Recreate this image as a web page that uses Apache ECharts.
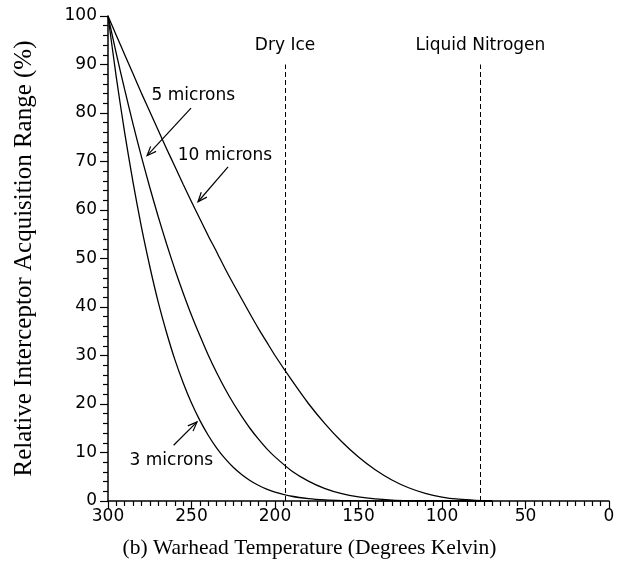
<!DOCTYPE html>
<html>
<head>
<meta charset="utf-8">
<script src="https://cdn.jsdelivr.net/npm/echarts@6/dist/echarts.min.js"></script>
<style>html,body{margin:0;padding:0;background:#fff;}#c{width:622px;height:566px;}</style>
</head>
<body>
<div id="c"></div>
<script>
// Warhead temperature (K)
var temps = [300,295,290,285,280,275,270,265,260,255,250,245,240,235,230,225,220,215,210,205,200,190,180,170,160,150,140,130,120,110,100,90,80,70];
// Relative acquisition range (%)
var micron3  = [100,87.3,75.9,65.7,56.5,48.4,41.1,34.8,29.2,24.4,20.2,16.62,13.56,10.96,8.78,6.96,5.47,4.24,3.25,2.46,1.84,0.98,0.485,0.22,0.092,0.034,0.011,0,0,0,0,0,0,0];
var micron5  = [100,92.2,84.8,77.7,71.0,64.7,58.7,53.1,47.8,42.9,38.3,34.1,30.1,26.5,23.2,20.2,17.5,15.0,12.8,10.8,9.1,6.2,4.1,2.55,1.5,0.83,0.42,0.19,0.075,0.025,0.007,0,0,0];
var micron10 = [100,96.0,92.0,88.1,84.1,80.3,76.5,72.7,69.0,65.3,61.7,58.2,54.7,51.4,48.0,44.8,41.7,38.6,35.6,32.8,30.0,24.9,20.1,15.9,12.2,9.05,6.43,4.33,2.73,1.58,0.82,0.37,0.14,0.04];

// Reference temperatures
var refNames = ['Dry Ice', 'Liquid Nitrogen'];
var refTemps = [194, 77];
var refTop = 90;
var refLabelY = 94;

// Curve annotations (text position and arrow from -> to, in data units)
var annText = ['5 microns', '10 microns', '3 microns'];
var annTextT = [248.9, 230.0, 262.1];
var annTextV = [83.5, 71.2, 8.4];
var arrowFromT = [250.3, 228.1, 260.7];
var arrowFromV = [81.0, 68.9, 11.5];
var arrowToT = [276.6, 246.1, 246.7];
var arrowToV = [71.2, 61.7, 16.3];

function zip(xs, ys) { return xs.map(function (x, i) { return [x, ys[i]]; }); }

var sansFont = 'DejaVu Sans';
var lineSeries = function (name, vals) {
  return {
    name: name, type: 'line', data: zip(temps, vals), symbol: 'none',
    smooth: 0.25,
    lineStyle: { color: '#000', width: 1.3 }, silent: true
  };
};

var textLabels = annText.concat(refNames);
var textT = annTextT.concat(refTemps);
var textV = annTextV.concat(refTemps.map(function () { return refLabelY; }));

var chart = echarts.init(document.getElementById('c'), null, { renderer: 'canvas' });
chart.setOption({
  animation: false,
  backgroundColor: '#fff',
  grid: { left: 108, right: 13, top: 16, bottom: 65, containLabel: false },
  xAxis: {
    type: 'value', min: 0, max: 300, interval: 50, inverse: true,
    name: '(b) Warhead Temperature (Degrees Kelvin)',
    nameLocation: 'middle', nameGap: 36,
    nameTextStyle: { fontFamily: 'Liberation Serif', fontSize: 21.5, color: '#000', padding: [0, 98, 0, 0] },
    axisLine: { show: true, onZero: false, lineStyle: { color: '#000', width: 1.5 } },
    axisTick: { show: true, inside: false, length: 8, lineStyle: { color: '#000', width: 1.2 } },
    minorTick: { show: true, splitNumber: 10, length: 5, lineStyle: { color: '#000', width: 1.2 } },
    axisLabel: { fontFamily: sansFont, fontSize: 17, color: '#000', margin: 7 },
    splitLine: { show: false }
  },
  yAxis: {
    type: 'value', min: 0, max: 100, interval: 10,
    name: 'Relative Interceptor Acquisition Range (%)',
    nameLocation: 'middle', nameGap: 71, nameRotate: 90,
    nameTextStyle: { fontFamily: 'Liberation Serif', fontSize: 25, color: '#000' },
    axisLine: { show: true, onZero: false, lineStyle: { color: '#000', width: 1.5 } },
    axisTick: { show: true, inside: false, length: 8, lineStyle: { color: '#000', width: 1.2 } },
    minorTick: { show: true, splitNumber: 5, length: 5, lineStyle: { color: '#000', width: 1.2 } },
    axisLabel: { fontFamily: sansFont, fontSize: 17, color: '#000', margin: 11 },
    splitLine: { show: false }
  },
  series: [
    lineSeries('3 microns', micron3),
    lineSeries('5 microns', micron5),
    lineSeries('10 microns', micron10),
    {
      name: 'refs', type: 'line', data: [], silent: true,
      markLine: {
        silent: true, symbol: ['none', 'none'], animation: false,
        label: { show: false },
        lineStyle: { color: '#000', width: 1, type: [5, 3] },
        data: refTemps.map(function (t) { return [{ coord: [t, 0] }, { coord: [t, refTop] }]; })
      }
    },
    {
      name: 'arrows', type: 'custom', coordinateSystem: 'cartesian2d', clip: false, silent: true,
      data: arrowFromT.map(function (t, i) { return [t, arrowFromV[i], arrowToT[i], arrowToV[i]]; }),
      encode: { x: [0, 2], y: [1, 3] },
      renderItem: function (params, api) {
        var p1 = api.coord([api.value(0), api.value(1)]);
        var p2 = api.coord([api.value(2), api.value(3)]);
        var ang = Math.atan2(p1[1] - p2[1], p1[0] - p2[0]);
        var L = 10, a = 0.38;
        var h1 = [p2[0] + L * Math.cos(ang + a), p2[1] + L * Math.sin(ang + a)];
        var h2 = [p2[0] + L * Math.cos(ang - a), p2[1] + L * Math.sin(ang - a)];
        return {
          type: 'group',
          children: [
            { type: 'line', shape: { x1: p1[0], y1: p1[1], x2: p2[0], y2: p2[1] }, style: { stroke: '#000', lineWidth: 1.2 } },
            { type: 'polyline', shape: { points: [h1, p2, h2] }, style: { stroke: '#000', lineWidth: 1.2, fill: null } }
          ]
        };
      }
    },
    {
      name: 'texts', type: 'custom', coordinateSystem: 'cartesian2d', clip: false, silent: true,
      data: textT.map(function (t, i) { return [t, textV[i]]; }),
      encode: { x: 0, y: 1 },
      renderItem: function (params, api) {
        var p = api.coord([api.value(0), api.value(1)]);
        return {
          type: 'text',
          style: {
            text: textLabels[params.dataIndex], x: p[0], y: p[1],
            align: 'center', verticalAlign: 'middle',
            fontFamily: sansFont, fontSize: 17, fill: '#000'
          }
        };
      }
    }
  ]
});
</script>
</body>
</html>
